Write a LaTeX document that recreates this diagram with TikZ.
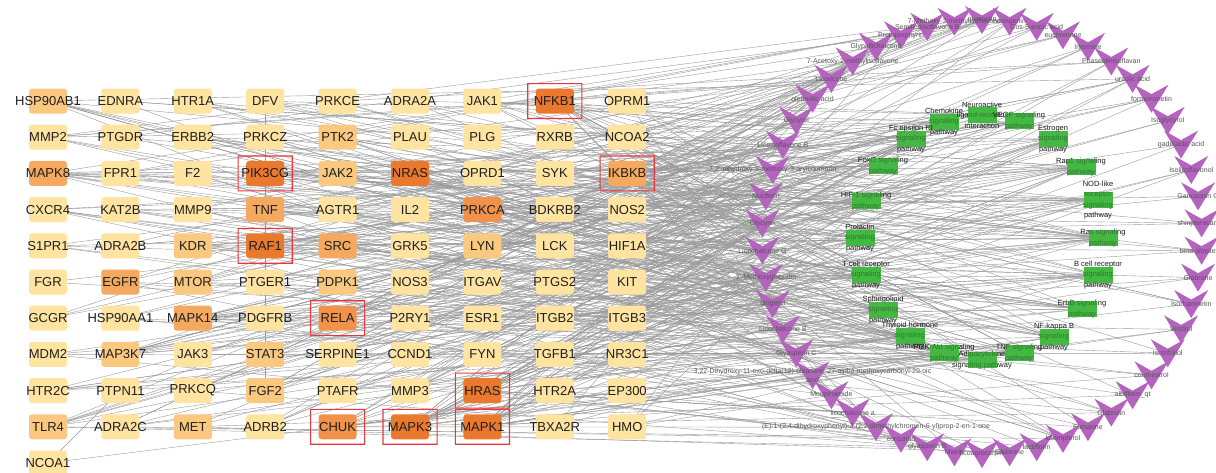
\documentclass[tikz,border=0pt]{standalone}
\usepackage{fontspec}
\setmainfont{Liberation Sans}
\usetikzlibrary{calc}
\definecolor{lvA}{HTML}{FEE3A1}
\definecolor{lvB}{HTML}{FAC97F}
\definecolor{lvC}{HTML}{F4A95E}
\definecolor{lvD}{HTML}{F0924A}
\definecolor{lvE}{HTML}{EA782D}
\definecolor{hilite}{HTML}{E8383E}
\definecolor{cpdcol}{HTML}{B463BE}
\definecolor{pathcol}{HTML}{43B843}
\definecolor{linkcol}{HTML}{9A9A9A}
% target pool for random links, hubs appear more than once
\pgfmathdeclarerandomlist{tg}{{1}{2}{3}{4}{5}{6}{7}{8}{9}{10}{11}{12}{13}{14}{15}{16}{17}{18}{19}{20}{21}{22}{23}{24}{25}{26}{27}{28}{29}{30}{31}{32}{33}{34}{35}{36}{37}{38}{39}{40}{41}{42}{43}{44}{45}{46}{47}{48}{49}{50}{51}{52}{53}{54}{55}{56}{57}{58}{59}{60}{61}{62}{63}{64}{65}{66}{67}{68}{69}{70}{71}{72}{73}{74}{75}{76}{77}{78}{79}{80}{81}{82}{83}{84}{85}{86}{87}{88}{89}{90}{91}{8}{8}{8}{22}{22}{22}{24}{24}{24}{40}{40}{40}{79}{79}{79}{87}{87}{87}{88}{88}{88}{19}{19}{27}{27}{34}{34}{59}{59}{86}{86}{31}{31}{41}{41}{47}{47}{57}{57}{1}{14}{23}{39}{43}{48}{50}{65}{67}{76}{82}{84}}
\tikzset{
  tbox/.style={rectangle, rounded corners=3pt, minimum width=38pt, minimum height=25pt,
    inner sep=0pt, font=\fontsize{13}{15}\selectfont, text=black!88},
  clabel/.style={font=\fontsize{7}{8.5}\selectfont, text=black!66, align=center, inner sep=0pt},
  plabel/.style={font=\fontsize{7.5}{10.5}\selectfont, text=black!90, align=center, inner sep=0pt},
  pbox/.style={rectangle, fill=pathcol, minimum width=29pt, minimum height=16pt, inner sep=0pt},
  pveil/.style={pbox, fill opacity=0.6},
  link/.style={draw=linkcol, line width=0.4pt},
  vmark/.pic={\fill[cpdcol] (-17,-14) -- (0,-4.5) -- (17,-14) -- (0,14) -- cycle;},
}
\begin{document}
\begin{tikzpicture}[x=1pt,y=-1pt]
\fill[white] (0,0) rectangle (1216,472);
\useasboundingbox (0,0) rectangle (1216,472);

% ---- anchor points of the network ----
\foreach \idx in {1,...,91}{
  \pgfmathtruncatemacro\rw{div(\idx-1,9)}
  \pgfmathtruncatemacro\colk{mod(\idx-1,9)}
  \coordinate (t\idx) at ({48+72.4*\colk},{101+36.2*\rw});
}
\foreach \idx in {1,...,50}{
  \pgfmathsetmacro\ang{-90+7.2*(\idx-1)}
  \coordinate (c\idx) at ({982+220*cos(\ang)},{237+217*sin(\ang)});
}
\foreach \px/\py [count=\idx] in {944/122, 982/115, 1019/121, 911/139, 1053/139,
  883/166, 1081/167, 866/201, 1098/200, 860/238, 1103/238, 866/275, 1098/275,
  883/310, 1082/309, 910/336, 1054/337, 944/353, 982/360, 1019/353}{
  \coordinate (p\idx) at (\px,\py);
}

% ---- links ----
\pgfmathsetseed{20240}
\foreach \ci/\nd in {1/8,2/4,3/3,4/3,5/3,6/4,7/6,8/4,9/2,10/2,11/3,12/2,13/3,14/4,15/3,
  16/4,17/3,18/3,19/3,20/3,21/4,22/3,23/6,24/2,25/2,26/3,27/2,28/3,29/5,30/4,
  31/5,32/4,33/4,34/6,35/8,36/10,37/12,38/14,39/14,40/12,41/12,42/10,43/8,44/6,45/6,
  46/6,47/5,48/4,49/4,50/3}{
  \foreach \kk in {1,...,\nd}{
    \pgfmathrandomitem{\tgt}{tg}
    \draw[link] (c\ci) -- (t\tgt);
  }
}
\foreach \pj/\np in {1/12,2/8,3/10,4/16,5/12,6/16,7/18,8/16,9/14,10/15,
  11/20,12/15,13/14,14/14,15/15,16/14,17/14,18/22,19/8,20/14}{
  \foreach \kk in {1,...,\np}{
    \pgfmathrandomitem{\tgt}{tg}
    \draw[link] (p\pj) -- (t\tgt);
  }
}
\draw[link] (t4) -- (t76);
\draw[link] (t91) -- (t74);

% ---- target grid ----
\foreach \nm/\lv [count=\idx] in {
  HSP90AB1/lvB, EDNRA/lvA, HTR1A/lvA, DFV/lvA, PRKCE/lvA, ADRA2A/lvA, JAK1/lvA, NFKB1/lvE, OPRM1/lvA,
  MMP2/lvA, PTGDR/lvA, ERBB2/lvA, PRKCZ/lvA, PTK2/lvB, PLAU/lvA, PLG/lvA, RXRB/lvA, NCOA2/lvA,
  MAPK8/lvC, FPR1/lvA, F2/lvA, PIK3CG/lvE, JAK2/lvB, NRAS/lvE, OPRD1/lvA, SYK/lvA, IKBKB/lvC,
  CXCR4/lvA, KAT2B/lvA, MMP9/lvA, TNF/lvC, AGTR1/lvA, IL2/lvA, PRKCA/lvD, BDKRB2/lvA, NOS2/lvA,
  S1PR1/lvA, ADRA2B/lvA, KDR/lvB, RAF1/lvE, SRC/lvC, GRK5/lvA, LYN/lvB, LCK/lvA, HIF1A/lvA,
  FGR/lvA, EGFR/lvC, MTOR/lvB, PTGER1/lvA, PDPK1/lvB, NOS3/lvA, ITGAV/lvA, PTGS2/lvA, KIT/lvA,
  GCGR/lvA, HSP90AA1/lvA, MAPK14/lvC, PDGFRB/lvA, RELA/lvD, P2RY1/lvA, ESR1/lvA, ITGB2/lvA, ITGB3/lvA,
  MDM2/lvA, MAP3K7/lvB, JAK3/lvA, STAT3/lvB, SERPINE1/lvA, CCND1/lvA, FYN/lvA, TGFB1/lvA, NR3C1/lvA,
  HTR2C/lvA, PTPN11/lvA, PRKCQ/lvA, FGF2/lvB, PTAFR/lvA, MMP3/lvA, HRAS/lvE, HTR2A/lvA, EP300/lvA,
  TLR4/lvB, ADRA2C/lvA, MET/lvB, ADRB2/lvA, CHUK/lvD, MAPK3/lvE, MAPK1/lvE, TBXA2R/lvA, HMO/lvA,
  NCOA1/lvA}{
  \node[tbox, fill=\lv] (tb\idx) at (t\idx) {\makebox[0pt]{\nm}};
}
% red highlight frames, drawn as filled rings
\foreach \j in {8,22,27,40,59,79,86,87,88}
  \fill[hilite, even odd rule]
    ($(t\j)+(-27.6,-18)$) rectangle ($(t\j)+(27.6,18)$)
    ($(t\j)+(-26.5,-16.9)$) rectangle ($(t\j)+(26.5,16.9)$);

% ---- compound ring ----
\foreach \idx in {1,...,50}
  \pic at (c\idx) {vmark};
\foreach \lb [count=\idx] in {quercetin, naringenin, Cos-5-enoic acid, euchrenone, Inermine,
  Phaseolinisoflavan, ursolic acid, formononetin, Isoglycyrol, gadelaidic acid,
  Isolicoflavonol, Gancaonin G, shinpterocarpin, beta-sitosterol, Glabrene,
  Isorhamnetin, Vestitol, Isotrifoliol, coumestrol, albiflorin\_qt,
  Glabridin, Fumarine, kaempferol, lactiflorin, Glabrone,
  licoagrocarpin, Mairin, glyasperin B, curcumin,
  {(E)-1-(2,4-dihydroxyphenyl)-3-(2,2-dimethylchromen-6-yl)prop-2-en-1-one},
  licochalcone a, Moupinamide,
  {3,22-Dihydroxy-11-oxo-delta(12)-oleanene-27-alpha-methoxycarbonyl-29-oic\\acid},
  Glyasperin C, Licochalcone B, gingerol, 3'-Methoxyglabridin, Licochalcone G,
  Glycyrin, Nuciferin, {7,2'-dihydroxy-5-methoxy-3-arylcoumarin}, Licoisoflavone B,
  Glycyrol, oleanolic acid, Licoricone, 7-Acetoxy-2-methylisoflavone,
  Glypallichalcone, Protoporphyrin, Semilicoisoflavone B, 7-Methoxy-2-methylisoflavone}{
  \node[clabel] (cl\idx) at (c\idx) {\lb};
}

% ---- pathways: solid box, caption, then a translucent veil that tints the caption ----
\foreach \txt [count=\idx] in {
  {Chemokine\\signaling\\pathway},
  {Neuroactive\\ligand-receptor\\interaction},
  {VEGF signaling\\pathway},
  {Fc epsilon RI\\signaling\\pathway},
  {Estrogen\\signaling\\pathway},
  {FoxO signaling\\pathway},
  {Rap1 signaling\\pathway},
  {HIF-1 signaling\\pathway},
  {NOD-like\\receptor\\signaling\\pathway},
  {Prolactin\\signaling\\pathway},
  {Ras signaling\\pathway},
  {T cell receptor\\signaling\\pathway},
  {B cell receptor\\signaling\\pathway},
  {Sphingolipid\\signaling\\pathway},
  {ErbB signaling\\pathway},
  {Thyroid hormone\\signaling\\pathway},
  {NF-kappa B\\signaling\\pathway},
  {PI3K-Akt signaling\\pathway},
  {Adipocytokine\\signaling pathway},
  {TNF signaling\\pathway}}{
  \node[pbox] (pb\idx) at (p\idx) {};
  \node[plabel] (pl\idx) at (p\idx) {\txt};
  \node[pveil] (pv\idx) at (p\idx) {};
}
\end{tikzpicture}
\end{document}
